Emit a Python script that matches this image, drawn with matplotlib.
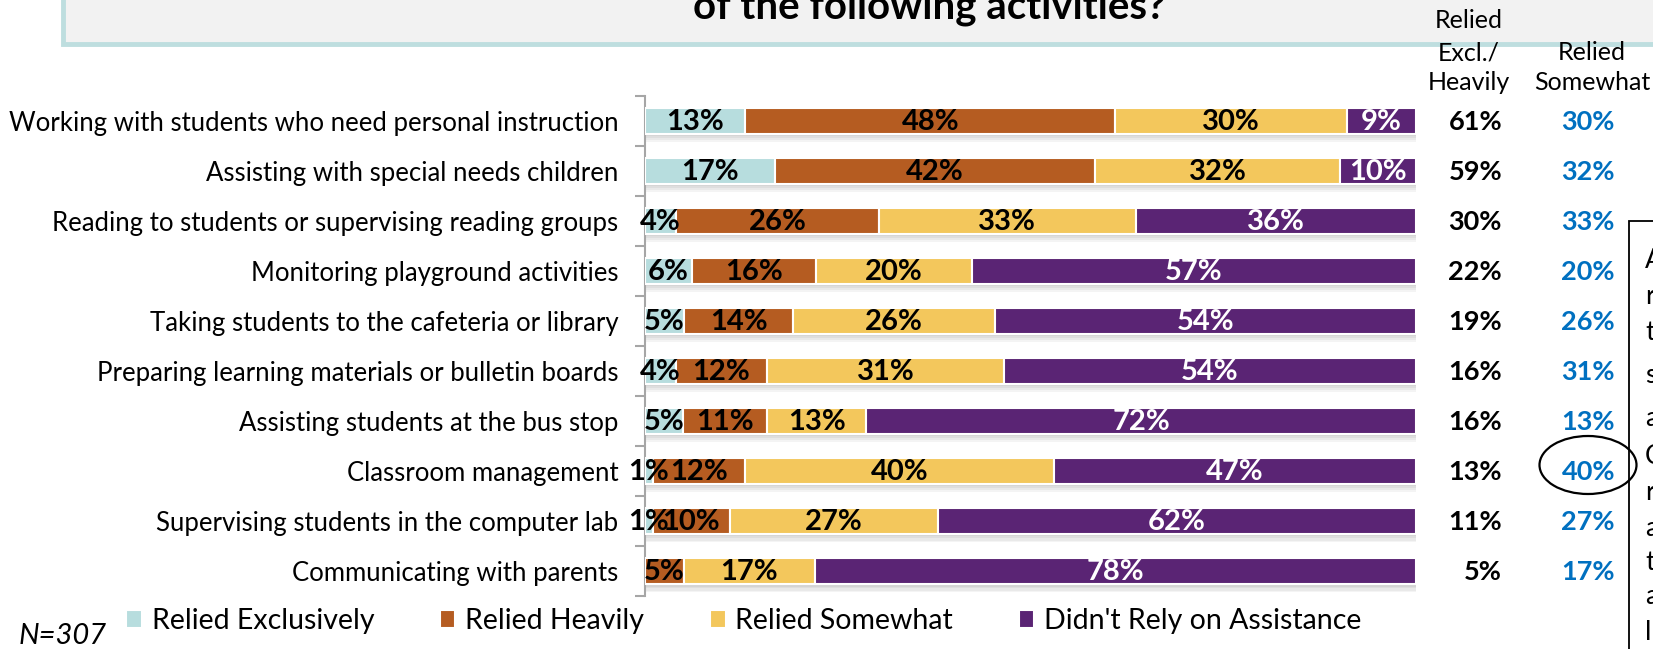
import matplotlib
matplotlib.use("Agg")
import matplotlib.pyplot as plt
from matplotlib.patches import Rectangle, Ellipse
from matplotlib.transforms import blended_transform_factory
import numpy as np

plt.rcParams['font.family'] = ['Lato', 'DejaVu Sans']

W, H = 1653, 649

categories = [
    "Working with students who need personal instruction",
    "Assisting with special needs children",
    "Reading to students or supervising reading groups",
    "Monitoring playground activities",
    "Taking students to the cafeteria or library",
    "Preparing learning materials or bulletin boards",
    "Assisting students at the bus stop",
    "Classroom management",
    "Supervising students in the computer lab",
    "Communicating with parents",
]
excl = [13, 17, 4, 6, 5, 4, 5, 1, 1, 0]
heavily = [48, 42, 26, 16, 14, 12, 11, 12, 10, 5]
somewhat = [30, 32, 33, 20, 26, 31, 13, 40, 27, 17]
didnt = [9, 10, 36, 57, 54, 54, 72, 47, 62, 78]
excl_heavy_col = [61, 59, 30, 22, 19, 16, 16, 13, 11, 5]
somewhat_col = [30, 32, 33, 20, 26, 31, 13, 40, 27, 17]
series_names = ["Relied Exclusively", "Relied Heavily", "Relied Somewhat",
                "Didn't Rely on Assistance"]
colors = ['#B7DDDE', '#B55C21', '#F3C75C', '#5A2474']


def fx(px):
    return px / W


def fy(py):
    return 1 - py / H


fig = plt.figure(figsize=(W / 100, H / 100), dpi=100)

# title box (cut off at the top)
fig.add_artist(Rectangle((fx(63), fy(44)), 1.2, 0.5, transform=fig.transFigure,
                         facecolor='#F2F2F2', edgecolor='#BEDEDF', lw=3.5, zorder=0))
fig.text(fx(929), fy(19), "of the following activities?", ha='center', va='baseline',
         fontsize=29, weight='bold', color='black')

ax = fig.add_axes([fx(645), fy(596), (1416 - 645) / W, 500 / H])
ax.set_xlim(0, 100)
ax.set_ylim(9.5, -0.5)

y = np.arange(len(categories))
data = np.array([excl, heavily, somewhat, didnt], dtype=float)
pct = data / data.sum(axis=0) * 100

# soft shadow under the bars
for off in [0.05, 0.09, 0.13, 0.17]:
    ax.barh(y + off, 100.4, height=0.52, color='black', alpha=0.045, lw=0, zorder=1)

left = np.zeros(len(categories))
handles = []
for i in range(4):
    b = ax.barh(y, pct[i], left=left, height=0.52, color=colors[i],
                edgecolor='white', linewidth=1.5, label=series_names[i], zorder=3)
    handles.append(b)
    for j in range(len(categories)):
        if data[i, j] > 0:
            ax.text(left[j] + pct[i, j] / 2, y[j] + 0.03, f"{int(data[i, j])}%",
                    ha='center', va='center', fontsize=21, weight='bold',
                    color='white' if i == 3 else 'black', zorder=5, clip_on=False)
    left += pct[i]

for s in ['top', 'right', 'bottom']:
    ax.spines[s].set_visible(False)
ax.spines['left'].set_color('#A6A6A6')
ax.spines['left'].set_linewidth(1.5)
ax.set_xticks([])
ax.set_yticks(y)
ax.set_yticklabels(categories, fontsize=18.5)
ax.tick_params(axis='y', which='major', length=0, pad=19)
ax.set_yticks(np.arange(-0.5, 10, 1), minor=True)
ax.tick_params(axis='y', which='minor', length=7, width=1.5, color='#A6A6A6', direction='out')
ax.set_facecolor('none')

# right-hand summary columns
tr = blended_transform_factory(fig.transFigure, ax.transData)
for j in range(len(categories)):
    fig.text(fx(1502), y[j] + 0.03, f"{excl_heavy_col[j]}%", transform=tr, ha='right',
             va='center', fontsize=19.5, weight='bold', color='black')
    fig.text(fx(1615), y[j] + 0.03, f"{somewhat_col[j]}%", transform=tr, ha='right',
             va='center', fontsize=19.5, weight='bold', color='#0070C0')

fig.text(fx(1469), fy(20), "Relied", ha='center', va='center', fontsize=18)
fig.text(fx(1469), fy(53), "Excl./", ha='center', va='center', fontsize=18)
fig.text(fx(1469), fy(83), "Heavily", ha='center', va='center', fontsize=18)
fig.text(fx(1592), fy(53), "Relied", ha='center', va='center', fontsize=18)
fig.text(fx(1592), fy(83), "Somewhat", ha='center', va='center', fontsize=18)

# callout ellipse and side box
fig.add_artist(Ellipse((fx(1588), fy(465)), 97 / W, 58 / H, transform=fig.transFigure,
                       fill=False, ec='black', lw=1.6))
fig.add_artist(Rectangle((fx(1629), fy(720)), 0.2, (720 - 221) / H, transform=fig.transFigure,
                         fill=False, ec='black', lw=1.3))
side_letters = ["A", "r", "t", "s", "a", "C", "r", "a", "t", "a", "l"]
side_y = [260, 297, 332, 375, 418, 457, 493, 528, 563, 597, 633]
for ch, yy in zip(side_letters, side_y):
    fig.text(fx(1645), fy(yy), ch, ha='left', va='center', fontsize=19)

fig.legend(handles=handles, labels=series_names, ncol=4, loc='center left',
           bbox_to_anchor=(fx(126), fy(621)), frameon=False, fontsize=20.5,
           handlelength=0.55, handleheight=0.55, handletextpad=0.35,
           columnspacing=2.3, borderaxespad=0, borderpad=0)
fig.text(fx(19), fy(636), "N=307", ha='left', va='center', fontsize=21, style='italic')

fig.savefig("out.png", dpi=100)
